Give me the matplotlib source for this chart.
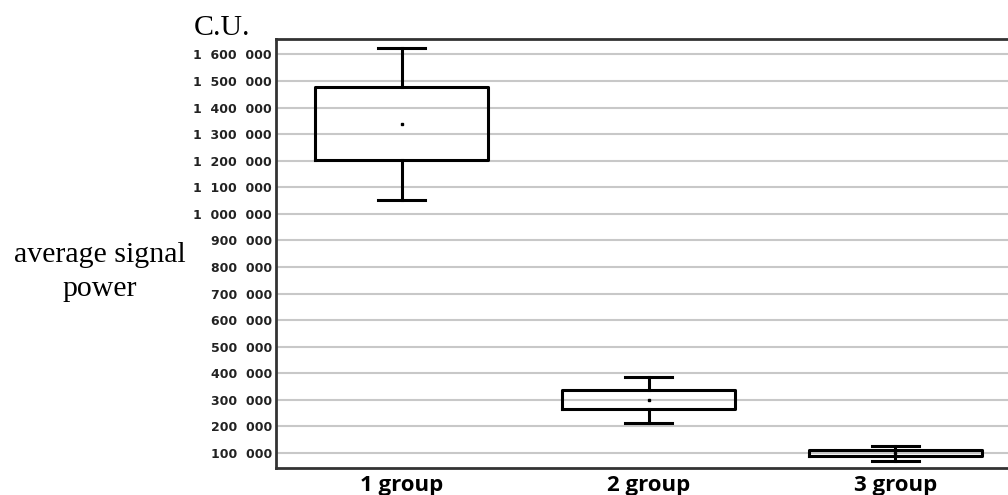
import matplotlib
matplotlib.use("Agg")
import matplotlib.pyplot as plt
from matplotlib.ticker import FuncFormatter

# ----------------------------
# Data (C.U.)
# ----------------------------
groups = ["1 group", "2 group", "3 group"]
whisker_low = [1051000, 212000, 71000]
q1 = [1202000, 265000, 89000]
mean = [1337000, 300000, 100000]
q3 = [1478000, 337000, 111000]
whisker_high = [1625000, 387000, 125000]

yticks = list(range(100000, 1600001, 100000))

stats = []
for i, name in enumerate(groups):
    stats.append({
        "label": name,
        "whislo": whisker_low[i],
        "q1": q1[i],
        "med": mean[i],
        "mean": mean[i],
        "q3": q3[i],
        "whishi": whisker_high[i],
        "fliers": [],
    })

# ----------------------------
# Figure & axes (axes runs off the right edge like the source)
# ----------------------------
W, H = 1008, 495
fig = plt.figure(figsize=(W / 100, H / 100), dpi=100)
ax = fig.add_axes([276 / W, (H - 468) / H, 745 / W, (468 - 39) / H])

line_kw = dict(color="black", linewidth=2.2)
ax.bxp(stats, positions=[1, 2, 3], widths=0.70, showmeans=True,
       showfliers=False, patch_artist=False,
       boxprops=line_kw, whiskerprops=line_kw, capprops=line_kw,
       medianprops=dict(linewidth=0),
       meanprops=dict(marker="s", markersize=2, markerfacecolor="black",
                      markeredgecolor="black"),
       capwidths=0.19)

ax.set_xlim(0.49, 3.51)
ax.set_ylim(43600, 1658000)
ax.set_yticks(yticks)
ax.yaxis.set_major_formatter(FuncFormatter(lambda v, p: f"{int(v):,}".replace(",", "  ")))
ax.grid(axis="y", color="#c8c8c8", linewidth=1.5)
ax.set_axisbelow(True)

ax.tick_params(axis="y", length=0, pad=3, labelsize=9)
ax.tick_params(axis="x", length=0, pad=5)
for lab in ax.get_yticklabels():
    lab.set_fontweight("bold")
    lab.set_color("#222222")
ax.set_xticks([1, 2, 3])
ax.set_xticklabels(groups, fontsize=16, fontweight="bold", family="Open Sans")

for side in ["left", "top", "bottom"]:
    ax.spines[side].set_color("#333333")
    ax.spines[side].set_linewidth(2)
ax.spines["right"].set_visible(False)

fig.text(222 / W, 1 - 28 / H, "C.U.", family="Liberation Serif", fontsize=21.5,
         ha="center", va="center")
fig.text(100 / W, 1 - 272 / H, "average signal\npower", family="Liberation Serif",
         fontsize=21.5, ha="center", va="center", linespacing=1.35)

fig.savefig("out.png", dpi=100)
